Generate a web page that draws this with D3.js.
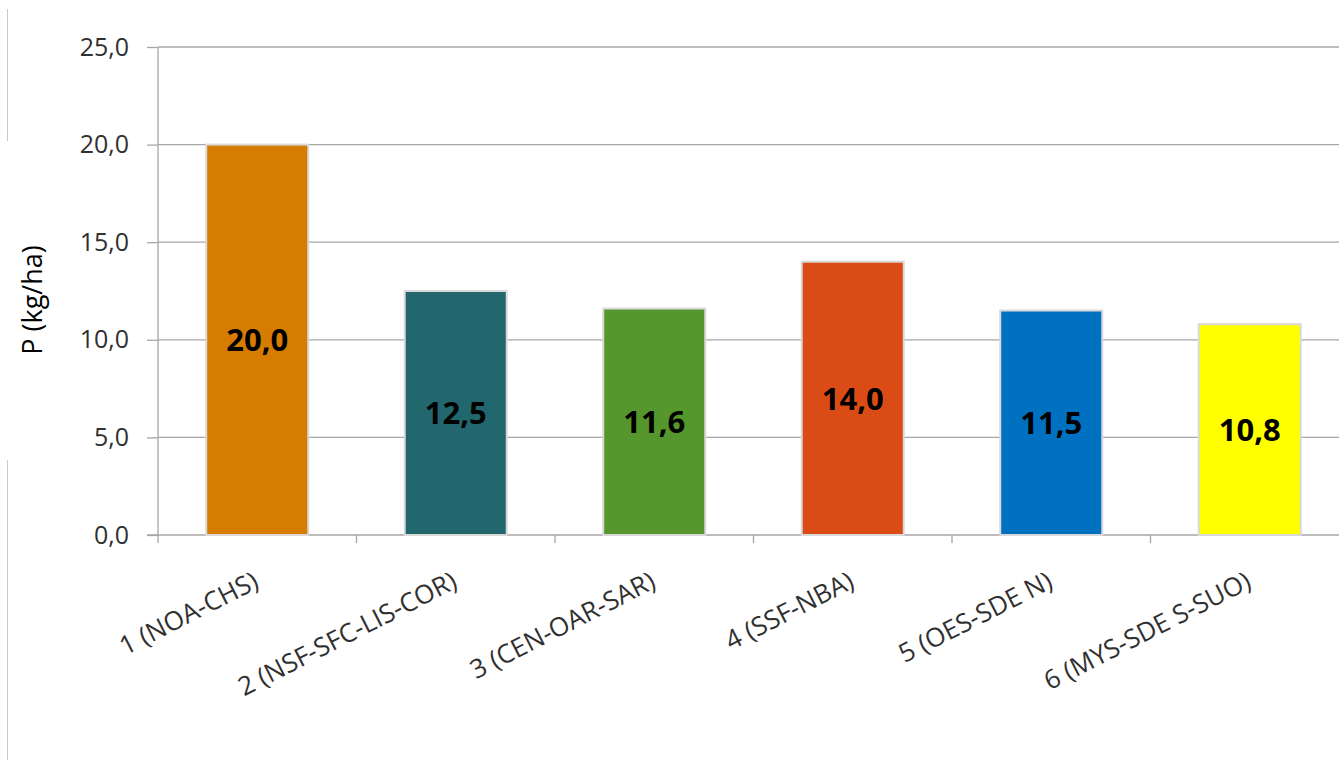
<!DOCTYPE html>
<html><head><meta charset="utf-8">
<script src="https://cdn.jsdelivr.net/npm/d3@7"></script>
<style>body{margin:0;background:#fff;} svg{display:block;}</style>
</head><body><svg id="c" width="1339" height="760"></svg>
<script>
const categories = ["1 (NOA-CHS)","2 (NSF-SFC-LIS-COR)","3 (CEN-OAR-SAR)","4 (SSF-NBA)","5 (OES-SDE N)","6 (MYS-SDE S-SUO)"];
const values = [20.0, 12.5, 11.6, 14.0, 11.5, 10.8];
const colors = ["#d67c00","#22666e","#55962d","#db4b16","#0070c0","#ffff00"];
const yTicks = [0,5,10,15,20,25];
const yTitle = "P (kg/ha)";

const svg = d3.select("#c");
const W = 1339, H = 760;
const m = {l:158, t:47, b:225};
const plotRight = 1349; // plot area extends slightly past the picture edge
const x = d3.scaleBand().domain(categories).range([m.l, plotRight]).paddingInner(0.486).paddingOuter(0.243);
const y = d3.scaleLinear().domain([0,25]).range([H-m.b, m.t]);
const font = "'Open Sans', sans-serif";
const step = x.step();

// decorative left line
svg.append("line").attr("x1",7.5).attr("x2",7.5).attr("y1",9).attr("y2",141).attr("stroke","#c8c8c8");
svg.append("line").attr("x1",7.5).attr("x2",7.5).attr("y1",460).attr("y2",760).attr("stroke","#c8c8c8");

// gridlines
svg.append("g").selectAll("line").data(yTicks.filter(d=>d>0)).join("line")
  .attr("x1",m.l).attr("x2",W).attr("y1",d=>y(d)).attr("y2",d=>y(d))
  .attr("stroke","#a6a6a6").attr("stroke-width",1.3);

// y axis
const ya = svg.append("g").attr("transform",`translate(${m.l},0)`)
  .call(d3.axisLeft(y).tickValues(yTicks).tickSize(11).tickFormat(d=>d3.format(".1f")(d).replace(".",",")));
ya.select(".domain").remove();
ya.selectAll("line").attr("stroke","#a6a6a6").attr("stroke-width",1.3);
ya.selectAll("text").attr("font-family",font).attr("font-size",25).attr("fill","#303030").attr("x",-29);
svg.append("line").attr("x1",m.l).attr("x2",m.l).attr("y1",y(25)).attr("y2",y(0)+8).attr("stroke","#a6a6a6").attr("stroke-width",1.3);

// x axis baseline and boundary ticks
svg.append("line").attr("x1",m.l-11).attr("x2",W).attr("y1",y(0)).attr("y2",y(0)).attr("stroke","#a6a6a6").attr("stroke-width",1.3);
svg.append("g").selectAll("line").data(categories.slice(1)).join("line")
  .attr("x1",d=>x(d)+x.bandwidth()/2-step/2).attr("x2",d=>x(d)+x.bandwidth()/2-step/2)
  .attr("y1",y(0)).attr("y2",y(0)+8).attr("stroke","#a6a6a6").attr("stroke-width",1.3);

// bars
svg.append("g").selectAll("rect").data(values).join("rect")
  .attr("x",(d,i)=>x(categories[i])).attr("width",x.bandwidth())
  .attr("y",d=>y(d)).attr("height",d=>y(0)-y(d))
  .attr("fill",(d,i)=>colors[i]).attr("stroke","#d9d9d9").attr("stroke-width",2);

// value labels
svg.append("g").selectAll("text").data(values).join("text")
  .attr("x",(d,i)=>x(categories[i])+x.bandwidth()/2)
  .attr("y",d=>(y(d)+y(0))/2).attr("dy","0.36em")
  .attr("text-anchor","middle").attr("font-family",font).attr("font-weight","bold")
  .attr("font-size",31).attr("fill","#000")
  .text(d=>d3.format(".1f")(d).replace(".",","));

// x labels
svg.append("g").selectAll("text").data(categories).join("text")
  .attr("transform",d=>`translate(${x(d)+x.bandwidth()/2+3},${y(0)+52}) rotate(-27)`)
  .attr("text-anchor","end")
  .attr("font-family",font).attr("font-size",26).attr("fill","#303030").text(d=>d);

// y title
svg.append("text").attr("transform",`translate(42,300) rotate(-90)`)
  .attr("text-anchor","middle").attr("font-family",font).attr("font-size",27).attr("fill","#000").text(yTitle);
</script></body></html>
